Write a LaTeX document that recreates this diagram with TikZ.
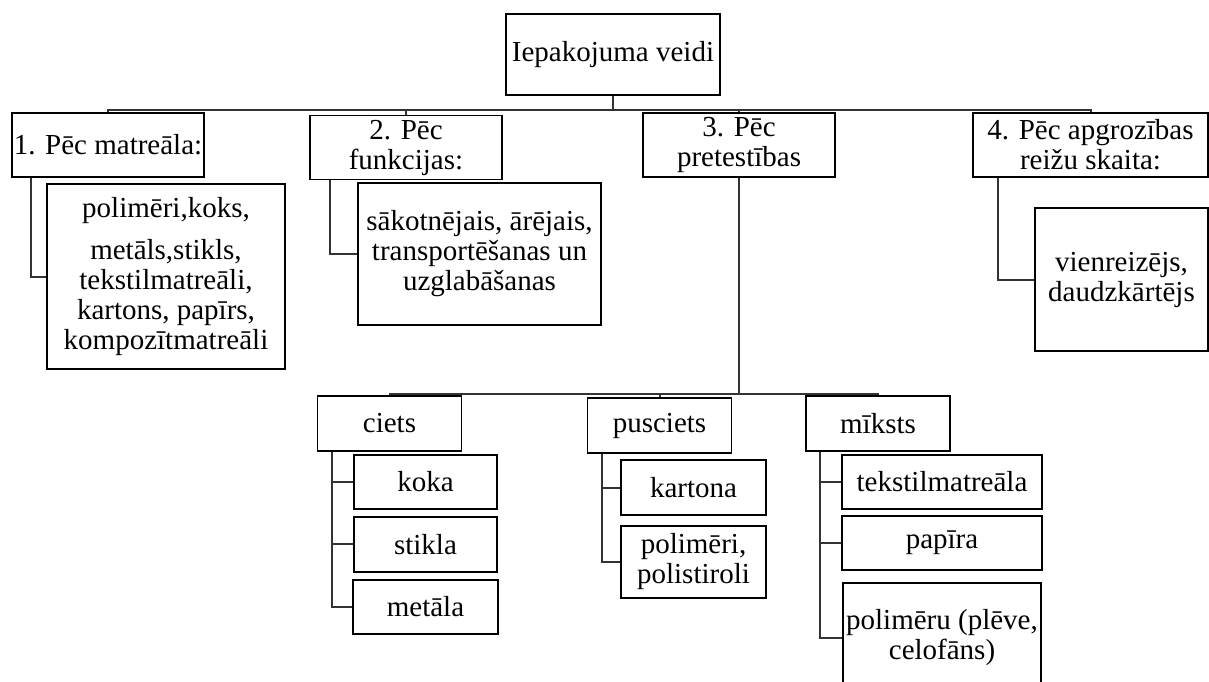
\documentclass[tikz,border=0pt]{standalone}
\usepackage{fontspec}
\setmainfont{Liberation Serif}
\usepackage{tikz}
\usetikzlibrary{positioning,calc}

\begin{document}
\begin{tikzpicture}[x=0.5pt, y=-0.5pt, wh/.style 2 args={minimum width=#1*0.5pt, minimum height=#2*0.5pt}]
\tikzstyle{main}=[rectangle, draw=black, line width=0.9pt, inner sep=0pt, align=center, font=\fontsize{14.5}{15}\selectfont]
\tikzstyle{cat}=[main, wh={192}{64}]
\tikzstyle{leaf}=[main, wh={144}{55}]
\tikzstyle{connect}=[draw=black!80, line width=1pt]

  \useasboundingbox (0,0) rectangle (1209,681);

  % top level
  \node[main, wh={214}{81}] (root) at (613,54.5) {Iepakojuma veidi};

  \node[cat] (box1) at (108,145)    {1. Pēc matreāla:};
  \node[cat] (box2) at (406,147.5)  {2. Pēc\\funkcijas:};
  \node[cat] (box3) at (739,145)    {3. Pēc\\pretestības};
  \node[cat, wh={235}{64}] (box4) at (1090.5,145) {4. Pēc apgrozības\\reižu skaita:};

  \node[main, wh={238}{185}] (sub1) at (166,276.5)   {polimēri,koks,\\[6pt]metāls,stikls,\\tekstilmatreāli,\\kartons, papīrs,\\kompozītmatreāli};
  \node[main, wh={243}{142}] (sub2) at (479.5,254)   {sākotnējais, ārējais,\\transportēšanas un\\uzglabāšanas};
  \node[main, wh={173}{143}] (sub4) at (1121.5,279.5) {vienreizējs,\\daudzkārtējs};

  % pretestiba
  \node[leaf] (ciets)    at (389.5,423.5) {ciets};
  \node[leaf] (pusciets) at (659.5,425.5) {pusciets};
  \node[leaf] (miksts)   at (878,423.5)   {mīksts};

  \node[leaf, wh={143}{54}] (koka)   at (425.5,482)    {koka};
  \node[leaf, wh={143}{55}] (stikla) [below=3pt of koka]   {stikla};
  \node[leaf, wh={145}{54}] (metala) [below=3pt of stikla] {metāla};

  \node[leaf, wh={145}{55}] (kartona)  at (693.5,487.5)      {kartona};
  \node[leaf, wh={145}{72}] (polimeri) [below=4.5pt of kartona] {polimēri,\\polistiroli};

  \node[leaf, wh={200}{54}] (tekstil)  at (942,482)          {tekstilmatreāla};
  \node[leaf, wh={200}{54}] (papira)   [below=2.5pt of tekstil] {papīra};
  \node[leaf, wh={198}{110}] (polimeru) [below=5.5pt of papira] {polimēru (plēve,\\celofāns)};

  \coordinate (bus)  at (613,110);
  \coordinate (bus2) at (737,394);

  % connectors
  \draw[connect] (root.south) -- (root.south |- bus);
  \draw[connect] (box1.north) -- (box1.north |- bus) -- (box4.north |- bus) -- (box4.north);
  \draw[connect] (box2.north) -- (box2.north |- bus);
  \draw[connect] (box3.north) -- (box3.north |- bus);

  \draw[connect] ([xshift=10pt]box1.south west) |- (sub1.west);
  \draw[connect] ([xshift=10.5pt]box2.south west) |- (sub2.west);
  \draw[connect] ([xshift=13pt]box4.south west) |- (sub4.west);

  \draw[connect] (box3.south) -- (box3.south |- bus2);
  \draw[connect] (ciets.north) -- (ciets.north |- bus2) -- (miksts.north |- bus2) -- (miksts.north);
  \draw[connect] (pusciets.north) -- (pusciets.north |- bus2);

  \foreach \leaf in {koka,stikla,metala}
    \draw[connect] ([xshift=7.5pt]ciets.south west) |- (\leaf.west);
  \foreach \leaf in {kartona,polimeri}
    \draw[connect] ([xshift=7.5pt]pusciets.south west) |- (\leaf.west);
  \foreach \leaf in {tekstil,papira,polimeru}
    \draw[connect] ([xshift=7.5pt]miksts.south west) |- (\leaf.west);

\end{tikzpicture}
\end{document}
